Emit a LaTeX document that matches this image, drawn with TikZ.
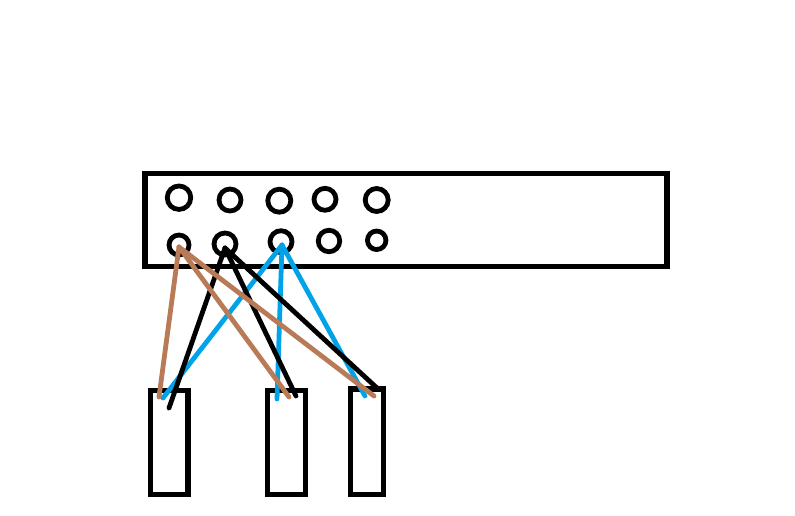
\documentclass[tikz,border=0pt]{standalone}
\tikzset{
  panel/.style={draw=black,line width=5.2pt,rectangle,inner sep=0pt,outer sep=0pt,fill=none},
  port/.style={draw=black,line width=4.8pt,circle,inner sep=0pt,outer sep=0pt,minimum size=#1pt},
  wire/.style={line width=4.8pt,line cap=round,line join=round},
  brownwire/.style={wire,draw={rgb,255:red,185;green,122;blue,87}},
  blackwire/.style={wire,draw=black},
  bluewire/.style={wire,draw={rgb,255:red,0;green,162;blue,232}}
}
\begin{document}
\begin{tikzpicture}[x=1pt,y=-1pt]
\useasboundingbox (0,0) rectangle (795,516);
\node[panel,minimum width=522pt,minimum height=93pt] (main) at (406,220) {};
\node[port=23.5] (t1) at (179,197.7) {};
\node[port=22] (t2) at (230,200) {};
\node[port=23] (t3) at (279.3,200.7) {};
\node[port=22] (t4) at (325,199.3) {};
\node[port=23] (t5) at (376.7,200) {};
\node[port=20] (b1) at (179,245) {};
\node[port=22] (b2) at (225,244) {};
\node[port=22] (b3) at (281,241.7) {};
\node[port=21.5] (b4) at (329,241) {};
\node[port=18.5] (b5) at (376.7,240.3) {};
\node[panel,minimum width=37.5pt,minimum height=104pt] (r1) at (169.25,442.5) {};
\node[panel,minimum width=38pt,minimum height=104pt] (r2) at (286.5,442.5) {};
\node[panel,minimum width=33pt,minimum height=105.5pt] (r3) at (367,441.75) {};
\coordinate (hbrown) at (179,247);
\coordinate (hblack) at (225,248);
\coordinate (hblue) at (282,245);
\coordinate (blue1) at (163,398);
\coordinate (blue2) at (277,399);
\coordinate (blue3) at (365,396);
\coordinate (black1) at (169,408);
\coordinate (black2) at (296,396);
\coordinate (black3) at (377,388);
\coordinate (brown1) at (159,397);
\coordinate (brown2) at (289,397);
\coordinate (brown3) at (374,396);
\draw[bluewire] (hblue) -- (blue1);
\draw[bluewire] (hblue) -- (blue2);
\draw[bluewire] (hblue) -- (blue3);
\draw[blackwire] (hblack) -- (black1);
\draw[blackwire] (hblack) -- (black2);
\draw[blackwire] (hblack) -- (black3);
\draw[brownwire] (hbrown) -- (brown1);
\draw[brownwire] (hbrown) -- (brown2);
\draw[brownwire] (hbrown) -- (brown3);
\end{tikzpicture}
\end{document}
